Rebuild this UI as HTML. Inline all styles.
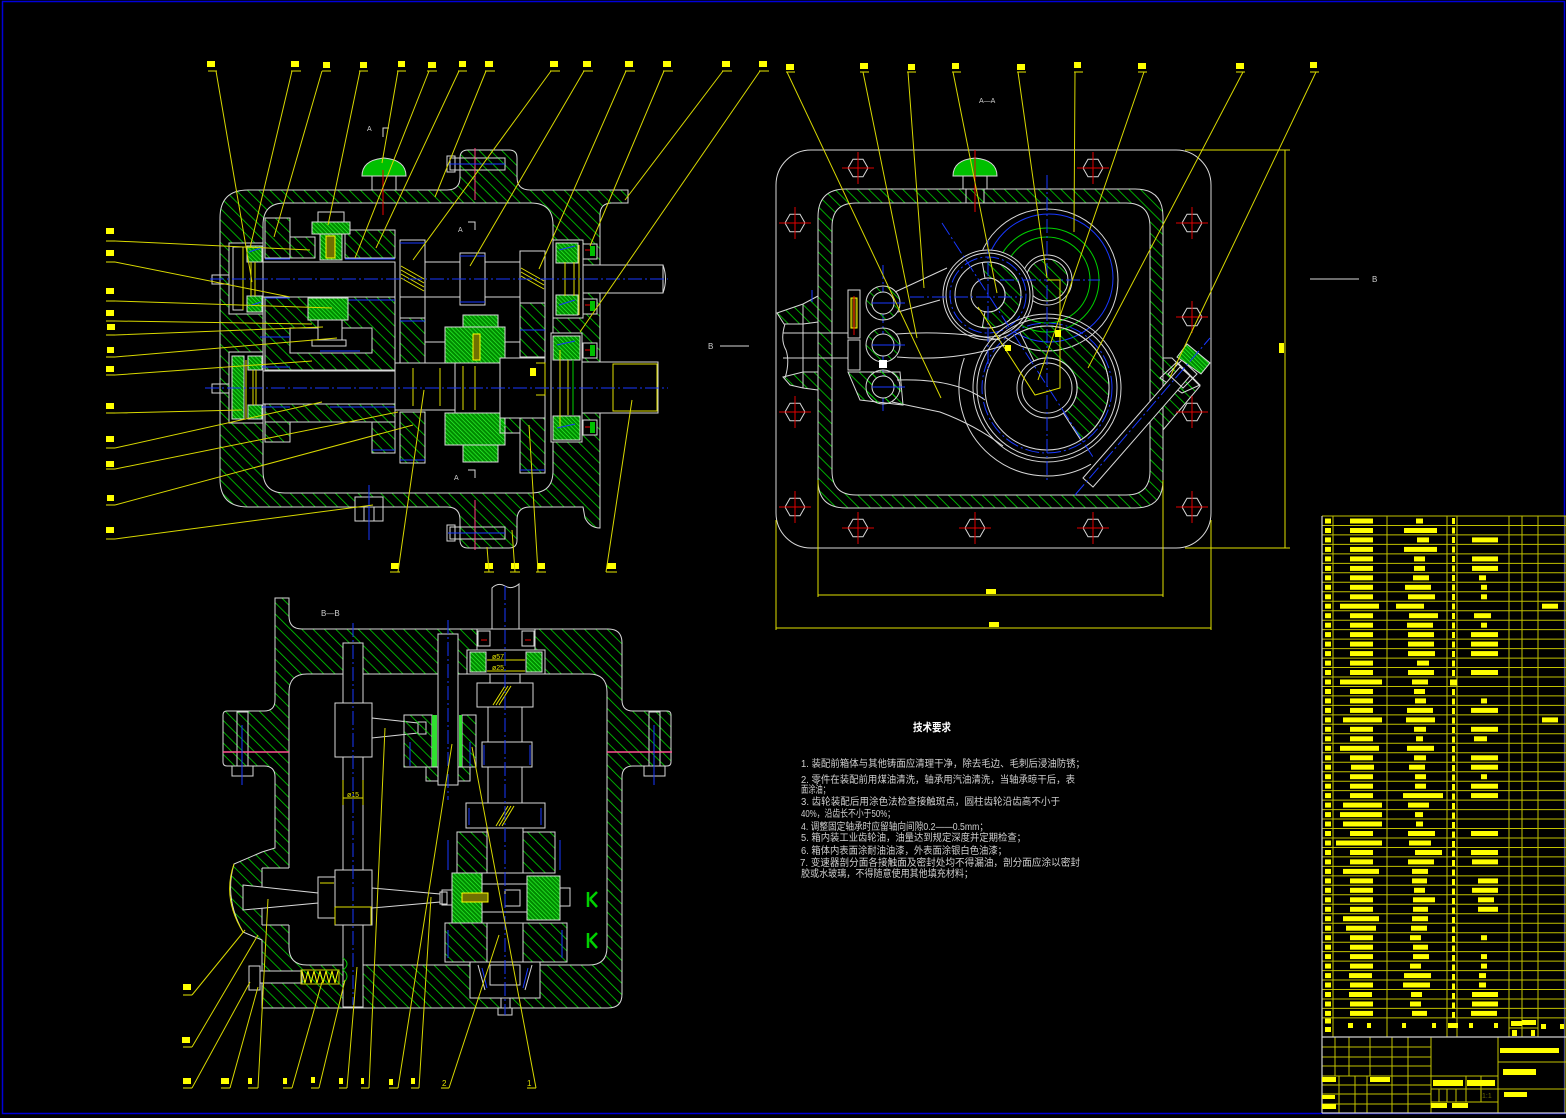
<!DOCTYPE html>
<html><head><meta charset="utf-8">
<style>
html,body{margin:0;padding:0;background:#000}
svg{display:block}
.w{stroke:#d8d8d8;stroke-width:1;fill:none}
.wb{stroke:#d8d8d8;stroke-width:1;fill:#000}
.hh{stroke:#d8d8d8;stroke-width:1;fill:url(#h)}
.dd{stroke:#d8d8d8;stroke-width:1;fill:url(#d)}
.y{stroke:#e0e000;stroke-width:1;fill:none}
.ld{stroke:#d8d800;stroke-width:1;fill:none}
.ul{stroke:#9a9a00;stroke-width:1.5;fill:none}
.bl{stroke:#1838ff;stroke-width:1;fill:none;stroke-dasharray:14 3 2 3}
.blu{stroke:#1838ff;stroke-width:1;fill:none}
.gr{stroke:#00d000;stroke-width:1;fill:none}
.t{fill:#cfcfcf;font-family:"Liberation Sans","Noto Sans CJK SC",sans-serif}
</style></head>
<body>
<svg width="1566" height="1118" viewBox="0 0 1566 1118" xmlns="http://www.w3.org/2000/svg">
<defs>
<pattern id="h" width="8" height="8" patternUnits="userSpaceOnUse" patternTransform="rotate(-45)"><line x1="0" y1="0" x2="0" y2="8" stroke="#00d400" stroke-width="1.6"/></pattern>
<pattern id="d" width="3" height="3" patternUnits="userSpaceOnUse" patternTransform="rotate(-45)"><rect width="3" height="3" fill="#008a00"/><line x1="0" y1="0" x2="0" y2="3" stroke="#30ff30" stroke-width="1.3"/></pattern>
<g id="bolt"><path d="M10,0 L5,8.7 L-5,8.7 L-10,0 L-5,-8.7 L5,-8.7 Z" fill="none" stroke="#d8d8d8"/><path d="M-16,0H16M0,-16V16" stroke="#e00000"/></g>
</defs>
<rect width="1566" height="1118" fill="#000"/>
<rect x="2.5" y="1.5" width="1562" height="1112" fill="none" stroke="#0000d8" stroke-width="1.5"/>

<!-- ================= VIEW 1 ================= -->
<g>
<path class="hh" fill-rule="evenodd" d="M248,190 L447,190 Q460,190 460,177 L460,158 Q460,150 468,150 L509,150 Q517,150 517,158 L517,177 Q517,190 530,190 L628,190 L628,203 L612,203 Q600,203 600,215 L600,528 Q590,528 585,518 L583,507 L530,507 Q517,507 517,520 L517,540 Q517,548 509,548 L468,548 Q460,548 460,540 L460,520 Q460,507 447,507 L248,507 Q220,507 220,479 L220,218 Q220,190 248,190 Z M285,203 Q263,203 263,225 L263,471 Q263,493 285,493 L531,493 Q553,493 553,471 L553,225 Q553,203 531,203 Z"/>
<!-- left covers -->
<rect class="wb" x="229" y="243" width="34" height="71"/>
<rect class="w" x="233" y="247" width="10" height="63"/>
<rect class="dd" x="247" y="246" width="15" height="16"/>
<rect class="dd" x="247" y="296" width="15" height="16"/>
<path class="y" d="M243,248V310M255,262V296M251,262V296"/>
<path class="blu" d="M249,252L261,248M249,306L261,302"/>
<rect class="w" x="212" y="275" width="17" height="9"/>
<rect class="wb" x="229" y="352" width="34" height="71"/>
<rect class="dd" x="232" y="356" width="12" height="63"/>
<rect class="dd" x="248" y="356" width="14" height="14"/>
<rect class="dd" x="248" y="405" width="14" height="14"/>
<path class="y" d="M246,360V418M256,370V405M253,370V405"/>
<rect class="w" x="212" y="384" width="17" height="9"/>
<!-- right bearings -->
<rect class="wb" x="553" y="240" width="30" height="78"/>
<rect class="dd" x="556" y="243" width="22" height="20"/>
<rect class="dd" x="556" y="295" width="22" height="20"/>
<path class="y" d="M565,262V296M574,262V296M579,245V315"/>
<path class="blu" d="M559,250L575,246M559,305L575,300"/>
<rect class="wb" x="583" y="265" width="80" height="28"/>
<path class="w" d="M663,265 Q668,279 663,293"/>
<rect class="wb" x="583" y="244" width="14" height="15"/>
<rect class="wb" x="583" y="299" width="14" height="15"/>
<path stroke="#e00" d="M585,250H590M585,305H590"/>
<rect x="590" y="246" width="5" height="10" fill="#00c000"/>
<rect x="590" y="301" width="5" height="10" fill="#00c000"/>
<rect class="wb" x="551" y="333" width="31" height="109"/>
<rect class="dd" x="553" y="336" width="27" height="24"/>
<rect class="dd" x="553" y="416" width="27" height="24"/>
<path class="y" d="M560,350V428M568,360V415"/>
<path class="gr" d="M573,360V415"/>
<path class="blu" d="M557,345L575,341M557,428L575,424"/>
<rect class="wb" x="582" y="362" width="76" height="51"/>
<rect class="y" x="613" y="364" width="44" height="47"/>
<rect class="wb" x="583" y="343" width="14" height="15"/>
<rect class="wb" x="583" y="420" width="14" height="15"/>
<rect x="590" y="345" width="5" height="11" fill="#00c000"/>
<rect x="590" y="422" width="5" height="11" fill="#00c000"/>
<path stroke="#e00" d="M585,350H590M585,427H590"/>
<!-- upper shaft group -->
<rect class="hh" x="265" y="218" width="25" height="40"/>
<rect class="hh" x="290" y="237" width="25" height="21"/>
<rect class="hh" x="345" y="230" width="50" height="28"/>
<rect class="hh" x="265" y="297" width="130" height="73"/>
<rect class="wb" x="290" y="328" width="82" height="25"/>
<rect class="wb" x="263" y="262" width="132" height="35"/>
<path class="blu" d="M265,259H290M345,259H395M265,298H290M345,300H395M260,337H290M320,351H360"/>
<rect class="wb" x="318" y="212" width="26" height="10"/>
<rect class="dd" x="312" y="222" width="38" height="12"/>
<rect class="dd" x="320" y="234" width="22" height="26"/>
<rect x="326" y="236" width="9" height="22" fill="#707000" stroke="#ff0"/>
<rect class="dd" x="308" y="298" width="40" height="22"/>
<rect class="wb" x="318" y="320" width="24" height="20"/>
<rect class="wb" x="312" y="340" width="34" height="6"/>
<rect class="wb" x="263" y="371" width="132" height="33"/>
<rect class="hh" x="265" y="404" width="130" height="18"/>
<rect class="hh" x="265" y="422" width="25" height="20"/>
<rect class="hh" x="372" y="422" width="23" height="31"/>
<path class="blu" d="M262,407H290M330,407H395M372,450H395M262,367H290"/>
<!-- middle column -->
<rect class="wb" x="400" y="240" width="25" height="57"/>
<path class="y" d="M401,266L424,279M401,270L424,283M401,274L424,287M401,278L424,291"/>
<rect class="wb" x="400" y="297" width="25" height="21"/>
<rect class="hh" x="400" y="318" width="25" height="47"/>
<rect class="wb" x="395" y="363" width="60" height="47"/>
<rect class="hh" x="400" y="412" width="25" height="51"/>
<path class="y" d="M413,368V406M440,368V406"/>
<rect class="wb" x="425" y="262" width="35" height="35"/>
<rect class="wb" x="425" y="297" width="95" height="45"/>
<rect class="wb" x="460" y="253" width="25" height="52"/>
<path class="blu" d="M460,256H485M460,302H485M400,243H425M400,460H425M400,321H425"/>
<rect class="wb" x="485" y="262" width="35" height="35"/>
<rect class="wb" x="520" y="251" width="25" height="52"/>
<path class="y" d="M521,268L544,281M521,272L544,285M521,276L544,289"/>
<rect class="hh" x="520" y="303" width="25" height="54"/>
<rect class="dd" x="463" y="315" width="35" height="12"/>
<rect class="dd" x="445" y="327" width="60" height="36"/>
<rect x="473" y="334" width="7" height="26" fill="#707000" stroke="#ff0"/>
<rect class="wb" x="455" y="363" width="45" height="50"/>
<path class="y" d="M463,366V410M475,366V410"/>
<rect class="dd" x="445" y="413" width="60" height="32"/>
<rect class="dd" x="463" y="445" width="35" height="17"/>
<rect class="wb" x="500" y="358" width="45" height="60"/>
<rect fill="#ff0" x="530" y="368" width="6" height="8"/>
<path class="y" d="M536,363H545V395H536"/>
<rect class="hh" x="500" y="418" width="20" height="15"/>
<rect class="hh" x="520" y="418" width="25" height="55"/>
<path class="blu" d="M520,470H545M520,330H545"/>
<!-- bosses bolts -->
<rect class="w" x="450" y="158" width="55" height="12"/>
<rect class="w" x="447" y="156" width="8" height="16"/>
<rect class="w" x="450" y="527" width="55" height="12"/>
<rect class="w" x="447" y="525" width="8" height="16"/>
<path stroke="#ff4080" d="M475,148V200M475,500V550"/>
<path class="blu" d="M448,164H505M448,533H505"/>
<!-- breather -->
<path d="M362,176 Q362,160 384,158 Q406,160 406,176 Z" fill="#00c000" stroke="#d8d8d8"/>
<rect class="w" x="372" y="176" width="24" height="14"/>
<path stroke="#e00" d="M383,170V215"/>
<!-- bottom hex bolt -->
<rect class="wb" x="355" y="497" width="28" height="10"/>
<rect class="wb" x="355" y="507" width="28" height="14"/>
<path class="w" d="M364,507V521M374,507V521"/>
<path class="blu" d="M369,485V540"/>
<!-- centerlines -->
<path class="bl" d="M210,279H668M205,388H668"/>
<!-- section marks -->
<text class="t" x="367" y="131" font-size="7">A</text>
<path class="w" d="M383,137V128H389"/>
<text class="t" x="458" y="232" font-size="7">A</text>
<path class="w" d="M468,222H475V230"/>
<text class="t" x="454" y="480" font-size="7">A</text>
<path class="w" d="M468,470H475V478"/>
</g>

<!-- view1 labels top -->
<g fill="#ff0">
<rect x="207" y="61" width="8" height="6"/><rect x="291" y="61" width="8" height="6"/><rect x="323" y="62" width="7" height="6"/><rect x="360" y="62" width="7" height="6"/><rect x="398" y="61" width="7" height="6"/><rect x="428" y="62" width="8" height="6"/><rect x="459" y="61" width="7" height="6"/><rect x="485" y="61" width="8" height="6"/><rect x="550" y="61" width="8" height="6"/><rect x="583" y="61" width="8" height="6"/><rect x="625" y="61" width="8" height="6"/><rect x="663" y="61" width="8" height="6"/><rect x="722" y="61" width="8" height="6"/><rect x="759" y="61" width="8" height="6"/>
</g>
<path class="ul" d="M208,71H217M291,71H301M322,71H331M359,71H368M397,71H406M427,71H437M458,71H467M485,71H495M550,71H560M583,71H593M625,71H635M663,71H673M722,71H732M759,71H769"/>
<path class="ld" d="M216,71L252,282M292,71L250,248M322,71L274,237M360,71L328,225M398,71L382,163M429,71L355,258M459,71L376,248M486,71L435,197M551,71L413,260M584,71L470,266M626,71L539,269M664,71L590,246M723,71L625,200M760,71L580,332"/>
<!-- view1 labels left -->
<g fill="#ff0">
<rect x="106" y="228" width="8" height="6"/><rect x="106" y="250" width="8" height="6"/><rect x="106" y="288" width="8" height="6"/><rect x="106" y="310" width="8" height="6"/><rect x="107" y="324" width="8" height="6"/><rect x="107" y="347" width="7" height="6"/><rect x="106" y="366" width="8" height="6"/><rect x="106" y="403" width="8" height="6"/><rect x="106" y="436" width="8" height="6"/><rect x="106" y="461" width="8" height="6"/><rect x="107" y="495" width="7" height="6"/><rect x="106" y="527" width="8" height="6"/>
</g>
<path class="ul" d="M106,241H115M106,262H115M106,301H115M106,321H115M106,335H115M106,357H115M106,375H115M106,413H115M106,448H115M106,469H115M106,505H115M106,539H115"/>
<path class="ld" d="M115,241L310,250M115,262L290,297M115,301L332,308M115,321L312,324M115,335L323,327M115,357L337,338M115,375L312,361M115,413L242,410M115,448L322,402M115,469L398,412M115,505L413,425M115,539L373,505"/>
<!-- view1 labels bottom -->
<g fill="#ff0">
<rect x="391" y="563" width="8" height="6"/><rect x="485" y="563" width="8" height="6"/><rect x="511" y="563" width="8" height="6"/><rect x="537" y="563" width="8" height="6"/><rect x="607" y="563" width="9" height="6"/>
</g>
<path class="ul" d="M390,572H400M484,572H494M510,572H520M536,572H546M606,572H617"/>
<path class="ld" d="M398,572L424,390M489,572L487,547M515,572L512,530M538,572L529,425M606,572L632,400"/>

<!-- ================= VIEW 2 ================= -->
<g>
<rect class="w" x="776" y="150" width="435" height="398" rx="35"/>
<path class="hh" fill-rule="evenodd" d="M846,189 L1135,189 Q1163,189 1163,217 L1163,480 Q1163,508 1135,508 L846,508 Q818,508 818,480 L818,217 Q818,189 846,189 Z M856,203 Q832,203 832,227 L832,471 Q832,495 856,495 L1126,495 Q1150,495 1150,471 L1150,227 Q1150,203 1126,203 Z"/>
<path class="hh" d="M777,313 L803,304 L818,296 L818,322 L803,324 L784,324 Z"/>
<path class="hh" d="M783,377 L803,372 L818,372 L818,390 L803,388 L790,385 Z"/>
<path class="hh" d="M1163,358 L1172,358 L1200,386 L1163,430 Z"/>
<path class="w" d="M785,324 Q780,340 786,350 Q790,362 785,378M803,304V388M783,333H848M783,358H848"/>
<use href="#bolt" x="858" y="168"/><use href="#bolt" x="1093" y="168"/>
<use href="#bolt" x="795" y="223"/><use href="#bolt" x="1192" y="223"/>
<use href="#bolt" x="1192" y="317"/>
<use href="#bolt" x="795" y="412"/><use href="#bolt" x="1192" y="412"/>
<use href="#bolt" x="795" y="507"/><use href="#bolt" x="1192" y="507"/>
<use href="#bolt" x="858" y="528"/><use href="#bolt" x="975" y="528"/><use href="#bolt" x="1093" y="528"/>
<!-- breather -->
<path d="M953,176 Q953,160 975,158 Q997,160 997,176 Z" fill="#00c000" stroke="#d8d8d8"/>
<rect class="w" x="963" y="176" width="24" height="13"/>
<path class="w" d="M966,189V203M984,189V203"/>
<path stroke="#e00" d="M975,150V212"/>
<!-- upper gear -->
<circle class="w" cx="1047" cy="280" r="71"/>
<circle class="blu" cx="1049" cy="278" r="64"/>
<circle class="gr" cx="1047" cy="280" r="52"/>
<circle class="gr" cx="1047" cy="280" r="43"/>
<circle cx="1047" cy="280" r="25" fill="#000" stroke="#d8d8d8"/>
<circle cx="1047" cy="280" r="21" fill="url(#h)" stroke="#d8d8d8"/>
<!-- middle gear -->
<circle class="wb" cx="988" cy="295" r="45"/>
<circle class="w" cx="988" cy="295" r="42"/>
<circle class="bl" cx="988" cy="295" r="38"/>
<circle class="w" cx="988" cy="295" r="33"/>
<path class="hh" d="M982.3,262.5 A33,33 0 1 1 982.3,327.5 L985,311.7 A17,17 0 1 0 985,278.3 Z"/>
<circle class="w" cx="988" cy="295" r="17"/>
<!-- big gear -->
<path class="w" d="M1091,464.2 A88,88 0 0 1 964.3,357.9"/>
<circle class="w" cx="1047" cy="388" r="74"/>
<circle class="w" cx="1047" cy="388" r="70"/>
<circle class="bl" cx="1047" cy="388" r="65"/>
<circle class="w" cx="1047" cy="388" r="62"/>
<path class="hh" d="M1019.8,332.3 A62,62 0 0 1 1080.8,440 L1063.3,413.2 A30,30 0 0 0 1033.9,361 Z"/>
<circle class="w" cx="1047" cy="388" r="30"/>
<circle class="w" cx="1047" cy="388" r="25"/>
<!-- centerlines -->
<path class="bl" d="M1047,175V480M1000,280H1100M942,223L1093,457M910,297H1023M988,240V370M883,265V413M812,290V302"/>
<!-- yellow bits -->
<path class="y" d="M978,307L1035,395L1060,388L1060,280L1047,280"/>
<rect x="1055" y="330" width="6" height="7" fill="#ff0"/>
<rect x="1005" y="345" width="6" height="6" fill="#ff0"/>
<!-- shift forks -->
<path class="w" d="M895,292 L947,268 M898,312 L940,300"/>
<path class="w" d="M896,334 Q950,330 1000,340 M897,357 Q955,362 1005,345"/>
<path class="w" d="M897,380 Q955,378 985,400 M892,402 L940,412 Q975,425 1003,446"/>
<path class="hh" d="M848,372 L900,372 L903,405 L860,400 Z"/>
<circle class="hh" cx="883" cy="303" r="17"/>
<circle class="hh" cx="883" cy="345" r="17"/>
<circle class="hh" cx="883" cy="387" r="17"/>
<circle class="wb" cx="883" cy="303" r="11"/>
<circle class="wb" cx="883" cy="345" r="11"/>
<circle class="wb" cx="883" cy="387" r="11"/>
<path class="blu" d="M872,303H905M872,345H905M872,387H905"/>
<rect class="wb" x="848" y="290" width="12" height="48"/>
<rect x="851" y="298" width="6" height="30" fill="#505000" stroke="#ff0"/>
<path stroke="#e00" d="M854,296V335M854,340V368"/>
<rect class="wb" x="848" y="340" width="12" height="30"/>
<rect x="879" y="360" width="8" height="8" fill="#fff"/>
<!-- lever -->
<path class="hh" d="M1160,378 L1177,362 L1200,385 L1182,393 Z"/>
<path class="wb" d="M1083,478 L1093,487 L1190,376 L1180,367 Z"/>
<path class="w" d="M1168,374 L1182,360 L1197,374 L1183,388 Z"/>
<path d="M1177,357 L1187,344 L1210,363 L1201,374 Z" fill="url(#d)" stroke="#d8d8d8"/>
<path class="bl" d="M1075,495 L1210,338"/>
<!-- dims -->
<path class="y" d="M1185,150H1290M1185,548H1290M1285,150V548"/>
<rect x="1279" y="343" width="5" height="10" fill="#ff0"/>
<path class="y" d="M818,480V597M1163,480V597M818,595H1163M776,520V630M1211,520V630M776,628H1211"/>
<rect x="986" y="589" width="10" height="5" fill="#ff0"/>
<rect x="989" y="622" width="10" height="5" fill="#ff0"/>
<!-- section marks -->
<text class="t" x="979" y="103" font-size="7">A—A</text>
<path class="w" d="M720,346H749M1310,279H1359"/>
<text class="t" x="708" y="349" font-size="8">B</text>
<text class="t" x="1372" y="282" font-size="8">B</text>
</g>
<!-- view2 labels -->
<g fill="#ff0">
<rect x="786" y="64" width="8" height="6"/><rect x="860" y="63" width="8" height="6"/><rect x="908" y="64" width="7" height="6"/><rect x="952" y="63" width="7" height="6"/><rect x="1017" y="64" width="8" height="6"/><rect x="1074" y="62" width="7" height="6"/><rect x="1138" y="63" width="8" height="6"/><rect x="1236" y="63" width="8" height="6"/><rect x="1310" y="62" width="7" height="6"/>
</g>
<path class="ul" d="M786,72H795M860,72H869M907,72H916M952,72H961M1017,72H1026M1074,72H1083M1138,72H1147M1236,72H1245M1310,72H1319"/>
<path class="ld" d="M787,72L941,398M863,72L917,338M908,72L924,288M953,72L997,293M1018,72L1047,278M1075,72L1074,232M1144,72L1038,380M1243,72L1088,368M1316,72L1170,377"/>

<!-- ================= VIEW 3 ================= -->
<g>
<path class="hh" fill-rule="evenodd" d="M275,598 L289,598 L289,616 Q289,629 302,629 L608,629 Q622,629 622,643 L622,700 Q622,711 633,711 L667,711 Q671,711 671,715 L671,762 Q671,766 667,766 L633,766 Q622,766 622,777 L622,994 Q622,1008 608,1008 L262,1008 L262,940 L243,932 Q224,898 234,864 L262,852 L275,848 L275,777 Q275,766 264,766 L227,766 Q223,766 223,762 L223,715 Q223,711 227,711 L264,711 Q275,711 275,700 Z M307,674 Q289,674 289,692 L289,947 Q289,965 307,965 L589,965 Q607,965 607,947 L607,692 Q607,674 589,674 Z"/>
<rect x="262" y="868" width="28" height="57" fill="#000"/>
<path class="w" d="M262,868H289M262,925H289M262,868V925"/>
<path class="y" d="M234,864 Q222,898 243,932"/>
<text class="t" x="321" y="616" font-size="8">B—B</text>
<!-- flange bolts -->
<rect class="w" x="237" y="712" width="11" height="54"/>
<rect class="wb" x="232" y="766" width="21" height="10"/>
<rect class="w" x="649" y="712" width="11" height="54"/>
<rect class="wb" x="644" y="766" width="21" height="10"/>
<path stroke="#ff5090" stroke-width="1.5" d="M223,752H289M607,752H672"/>
<path class="blu" d="M242,725V785M654,725V785"/>
<!-- left rail -->
<rect class="wb" x="343" y="643" width="20" height="364"/>
<rect class="wb" x="335" y="703" width="37" height="54"/>
<path class="wb" d="M372,718 L418,723 L418,733 L372,738 Z"/>
<rect class="wb" x="418" y="722" width="8" height="12"/>
<rect class="wb" x="335" y="870" width="37" height="55"/>
<rect class="wb" x="318" y="877" width="17" height="41"/>
<path class="wb" d="M243,885 L318,893 L318,903 L243,910 Z"/>
<path class="wb" d="M372,888 L440,894 L440,902 L372,908 Z"/>
<rect class="wb" x="440" y="892" width="7" height="12"/>
<path class="y" d="M335,907H372M335,907V925M371,907V925M343,798H363M343,780V805M363,780V805M320,883H334"/>
<text x="347" y="797" fill="#e0e000" font-size="7" font-family="Liberation Sans,sans-serif">ø15</text>
<path class="bl" d="M353,623V1005"/>
<!-- middle shaft -->
<rect class="hh" x="404" y="715" width="28" height="52"/>
<rect class="hh" x="462" y="715" width="14" height="52"/>
<rect class="wb" x="438" y="634" width="20" height="151"/>
<rect x="432" y="715" width="5" height="52" fill="#30e030"/>
<rect x="459" y="715" width="3" height="52" fill="#30e030"/>
<rect class="hh" x="426" y="767" width="12" height="14"/>
<rect class="hh" x="458" y="767" width="12" height="14"/>
<path class="bl" d="M448,620V800"/>
<path class="blu" d="M410,742V766M470,742V766"/>
<!-- main shaft column -->
<path class="wb" d="M492,630 L492,588 Q498,582 505,586 Q512,590 519,584 L519,630 Z"/>
<rect class="wb" x="477" y="629" width="58" height="21"/>
<rect class="wb" x="478" y="631" width="12" height="15"/>
<rect class="wb" x="522" y="631" width="12" height="15"/>
<path stroke="#e00" d="M481,640H487M525,640H531"/>
<rect class="wb" x="467" y="650" width="78" height="24"/>
<rect class="dd" x="470" y="652" width="16" height="20"/>
<rect class="dd" x="526" y="652" width="16" height="20"/>
<path class="y" d="M487,660H525M487,671H525"/>
<text x="492" y="659" fill="#e0e000" font-size="7" font-family="Liberation Sans,sans-serif">ø57</text>
<text x="492" y="670" fill="#e0e000" font-size="7" font-family="Liberation Sans,sans-serif">ø25</text>
<rect class="wb" x="490" y="674" width="30" height="10"/>
<rect class="wb" x="477" y="683" width="56" height="24"/>
<path class="y" d="M493,705L505,686M496,705L508,686M499,705L511,686"/>
<rect class="wb" x="488" y="707" width="34" height="35"/>
<rect class="wb" x="482" y="742" width="50" height="25"/>
<rect class="wb" x="488" y="767" width="34" height="36"/>
<rect class="wb" x="466" y="803" width="79" height="25"/>
<path class="y" d="M496,826L508,806M499,826L511,806M502,826L514,806"/>
<rect class="hh" x="457" y="832" width="30" height="41"/>
<rect class="hh" x="523" y="832" width="32" height="41"/>
<rect class="wb" x="487" y="828" width="36" height="45"/>
<rect class="dd" x="452" y="873" width="30" height="50"/>
<rect class="dd" x="527" y="876" width="33" height="44"/>
<rect class="wb" x="482" y="884" width="45" height="28"/>
<rect x="462" y="893" width="26" height="9" fill="#707000" stroke="#ff0"/>
<rect class="w" x="442" y="890" width="10" height="15"/>
<rect class="w" x="560" y="888" width="10" height="18"/>
<rect class="wb" x="505" y="890" width="15" height="16"/>
<rect class="hh" x="445" y="923" width="42" height="39"/>
<rect class="hh" x="523" y="923" width="44" height="39"/>
<rect class="wb" x="487" y="923" width="36" height="42"/>
<path class="blu" d="M448,840V870M560,840V870M448,930V958M562,930V958M469,808V825M541,808V825M484,745V765M530,745V765"/>
<rect class="wb" x="470" y="962" width="70" height="36"/>
<rect class="w" x="490" y="965" width="30" height="20"/>
<path class="w" d="M478,965L485,990M532,965L525,990"/>
<path class="blu" d="M482,968L487,988M528,968L523,988"/>
<rect class="wb" x="501" y="998" width="9" height="12"/>
<rect class="wb" x="498" y="1008" width="14" height="7"/>
<path class="bl" d="M505,586V1015"/>
<!-- K marks -->
<path stroke="#00d000" stroke-width="2.5" fill="none" d="M588,892V907M590,899L597,892M590,899L597,907M588,933V948M590,940L597,933M590,940L597,948"/>
<!-- spring unit -->
<rect class="wb" x="249" y="966" width="11" height="24"/>
<rect class="wb" x="260" y="971" width="42" height="12"/>
<path stroke="#ff0" fill="none" d="M302,971L305,983L308,971L311,983L314,971L317,983L320,971L323,983L326,971L329,983L332,971L335,983L338,971"/>
<rect x="301" y="970" width="38" height="14" fill="none" stroke="#c8c800"/>
<path class="gr" d="M343,958 Q351,964 343,970 Q351,976 343,983"/>
</g>
<!-- view3 labels -->
<g fill="#ff0">
<rect x="183" y="984" width="8" height="6"/>
<rect x="182" y="1037" width="8" height="6"/>
<rect x="183" y="1078" width="8" height="6"/><rect x="221" y="1078" width="8" height="6"/><rect x="248" y="1078" width="4" height="6"/><rect x="283" y="1078" width="4" height="6"/><rect x="311" y="1077" width="4" height="6"/><rect x="339" y="1078" width="4" height="6"/><rect x="361" y="1078" width="3" height="6"/><rect x="389" y="1079" width="4" height="6"/><rect x="411" y="1078" width="4" height="6"/>
</g>
<text x="442" y="1086" fill="#e0e000" font-size="8" font-family="Liberation Sans,sans-serif">2</text>
<text x="527" y="1086" fill="#e0e000" font-size="8" font-family="Liberation Sans,sans-serif">1</text>
<path class="ul" d="M183,995H192M183,1047H192M183,1088H192M221,1088H230M248,1088H258M283,1088H292M311,1088H319M339,1088H347M361,1088H369M389,1088H398M411,1088H419M441,1088H449M527,1088H536"/>
<path class="ld" d="M192,995L245,930M192,1047L258,935M192,1088L250,982M230,1088L258,987M258,1088L268,899M292,1088L322,982M319,1088L345,980M347,1088L357,967M369,1088L385,728M398,1088L452,744M419,1088L431,897M449,1088L499,935M536,1088L472,747"/>

<!-- ================= TECH TEXT ================= -->
<g class="t" font-size="10">
<text x="913" y="731" font-size="11" font-weight="bold" textLength="38" lengthAdjust="spacingAndGlyphs" style="fill:#fff">技术要求</text>
<text x="801" y="767" textLength="284" lengthAdjust="spacingAndGlyphs">1. 装配前箱体与其他铸面应清理干净，除去毛边、毛刺后浸油防锈；</text>
<text x="801" y="783" textLength="274" lengthAdjust="spacingAndGlyphs">2. 零件在装配前用煤油清洗，轴承用汽油清洗，当轴承晾干后，表</text>
<text x="801" y="793" textLength="29" lengthAdjust="spacingAndGlyphs">面涂油；</text>
<text x="801" y="805" textLength="259" lengthAdjust="spacingAndGlyphs">3. 齿轮装配后用涂色法检查接触斑点，圆柱齿轮沿齿高不小于</text>
<text x="801" y="817" textLength="94" lengthAdjust="spacingAndGlyphs">40%，沿齿长不小于50%；</text>
<text x="801" y="830" textLength="187" lengthAdjust="spacingAndGlyphs">4. 调整固定轴承时应留轴向间隙0.2——0.5mm；</text>
<text x="801" y="841" textLength="225" lengthAdjust="spacingAndGlyphs">5. 箱内装工业齿轮油，油量达到规定深度并定期检查；</text>
<text x="801" y="854" textLength="206" lengthAdjust="spacingAndGlyphs">6. 箱体内表面涂耐油油漆，外表面涂银白色油漆；</text>
<text x="800" y="866" textLength="280" lengthAdjust="spacingAndGlyphs">7. 变速器剖分面各接触面及密封处均不得漏油，剖分面应涂以密封</text>
<text x="801" y="877" textLength="172" lengthAdjust="spacingAndGlyphs">胶或水玻璃，不得随意使用其他填充材料；</text>
</g>

<!-- ================= PARTS LIST ================= -->
<g stroke="#c0c000" stroke-width="1" fill="none">
<path d="M1322,516H1566M1322,525.5H1566M1322,534.9H1566M1322,544.4H1566M1322,553.9H1566M1322,563.4H1566M1322,572.8H1566M1322,582.3H1566M1322,591.8H1566M1322,601.2H1566M1322,610.7H1566M1322,620.2H1566M1322,629.6H1566M1322,639.1H1566M1322,648.6H1566M1322,658.1H1566M1322,667.5H1566M1322,677H1566M1322,686.5H1566M1322,695.9H1566M1322,705.4H1566M1322,714.9H1566M1322,724.3H1566M1322,733.8H1566M1322,743.3H1566M1322,752.8H1566M1322,762.2H1566M1322,771.7H1566M1322,781.2H1566M1322,790.6H1566M1322,800.1H1566M1322,809.6H1566M1322,819H1566M1322,828.5H1566M1322,838H1566M1322,847.5H1566M1322,856.9H1566M1322,866.4H1566M1322,875.9H1566M1322,885.3H1566M1322,894.8H1566M1322,904.3H1566M1322,913.7H1566M1322,923.2H1566M1322,932.7H1566M1322,942.2H1566M1322,951.6H1566M1322,961.1H1566M1322,970.6H1566M1322,980H1566M1322,989.5H1566M1322,999H1566M1322,1008.4H1566M1322,1017.9H1566"/>
<path d="M1333,516V1037M1387,516V1037M1447,516V1037M1457,516V1037M1509,516V1037M1522,516V1037M1538,516V1037M1565,516V1113M1509,1028H1538"/>
<!-- title block -->
<path d="M1322,1047H1431M1322,1057H1431M1322,1066H1431M1322,1076H1498M1322,1085H1431M1322,1094H1431M1322,1104H1431M1335,1037V1076M1349,1037V1076M1370,1037V1076M1392,1037V1113M1408,1037V1113M1431,1037V1113M1339,1076V1113M1355,1076V1113M1367,1076V1113M1431,1089H1498M1431,1102H1498M1466,1076V1102M1481,1076V1102M1439,1089V1102M1447,1089V1102M1456,1089V1102M1498,1037V1113M1498,1062H1566M1498,1089H1566"/>
</g>
<path stroke="#d0d0d0" stroke-width="1.2" fill="none" d="M1322,516V1113M1322,1037H1566M1322,1113H1566"/>
<g fill="#ff0">
<!-- col1 icons -->
<rect x="1325" y="518.5" width="6" height="5"/><rect x="1325" y="528" width="6" height="5"/><rect x="1325" y="537.4" width="6" height="5"/><rect x="1325" y="546.9" width="6" height="5"/><rect x="1325" y="556.4" width="6" height="5"/><rect x="1325" y="565.9" width="6" height="5"/><rect x="1325" y="575.3" width="6" height="5"/><rect x="1325" y="584.8" width="6" height="5"/><rect x="1325" y="594.3" width="6" height="5"/><rect x="1325" y="603.7" width="6" height="5"/><rect x="1325" y="613.2" width="6" height="5"/><rect x="1325" y="622.7" width="6" height="5"/><rect x="1325" y="632.1" width="6" height="5"/><rect x="1325" y="641.6" width="6" height="5"/><rect x="1325" y="651.1" width="6" height="5"/><rect x="1325" y="660.6" width="6" height="5"/><rect x="1325" y="670" width="6" height="5"/><rect x="1325" y="679.5" width="6" height="5"/><rect x="1325" y="689" width="6" height="5"/><rect x="1325" y="698.4" width="6" height="5"/><rect x="1325" y="707.9" width="6" height="5"/><rect x="1325" y="717.4" width="6" height="5"/><rect x="1325" y="726.8" width="6" height="5"/><rect x="1325" y="736.3" width="6" height="5"/><rect x="1325" y="745.8" width="6" height="5"/><rect x="1325" y="755.3" width="6" height="5"/><rect x="1325" y="764.7" width="6" height="5"/><rect x="1325" y="774.2" width="6" height="5"/><rect x="1325" y="783.7" width="6" height="5"/><rect x="1325" y="793.1" width="6" height="5"/><rect x="1325" y="802.6" width="6" height="5"/><rect x="1325" y="812.1" width="6" height="5"/><rect x="1325" y="821.5" width="6" height="5"/><rect x="1325" y="831" width="6" height="5"/><rect x="1325" y="840.5" width="6" height="5"/><rect x="1325" y="850" width="6" height="5"/><rect x="1325" y="859.4" width="6" height="5"/><rect x="1325" y="868.9" width="6" height="5"/><rect x="1325" y="878.4" width="6" height="5"/><rect x="1325" y="887.8" width="6" height="5"/><rect x="1325" y="897.3" width="6" height="5"/><rect x="1325" y="906.8" width="6" height="5"/><rect x="1325" y="916.2" width="6" height="5"/><rect x="1325" y="925.7" width="6" height="5"/><rect x="1325" y="935.2" width="6" height="5"/><rect x="1325" y="944.7" width="6" height="5"/><rect x="1325" y="954.1" width="6" height="5"/><rect x="1325" y="963.6" width="6" height="5"/><rect x="1325" y="973.1" width="6" height="5"/><rect x="1325" y="982.5" width="6" height="5"/><rect x="1325" y="992" width="6" height="5"/><rect x="1325" y="1001.5" width="6" height="5"/><rect x="1325" y="1010.9" width="6" height="5"/>
<!-- col2 -->
<rect x="1350" y="518.5" width="23" height="5"/><rect x="1350" y="528" width="23" height="5"/><rect x="1350" y="537.4" width="23" height="5"/><rect x="1350" y="546.9" width="23" height="5"/><rect x="1350" y="556.4" width="23" height="5"/><rect x="1350" y="565.9" width="23" height="5"/><rect x="1350" y="575.3" width="23" height="5"/><rect x="1350" y="584.8" width="23" height="5"/><rect x="1350" y="594.3" width="23" height="5"/><rect x="1340" y="603.7" width="39" height="5"/><rect x="1350" y="613.2" width="23" height="5"/><rect x="1350" y="622.7" width="23" height="5"/><rect x="1350" y="632.1" width="23" height="5"/><rect x="1350" y="641.6" width="23" height="5"/><rect x="1350" y="651.1" width="23" height="5"/><rect x="1350" y="660.6" width="23" height="5"/><rect x="1350" y="670" width="23" height="5"/><rect x="1340" y="679.5" width="42" height="5"/><rect x="1350" y="689" width="23" height="5"/><rect x="1350" y="698.4" width="23" height="5"/><rect x="1350" y="707.9" width="23" height="5"/><rect x="1343" y="717.4" width="39" height="5"/><rect x="1350" y="726.8" width="23" height="5"/><rect x="1350" y="736.3" width="23" height="5"/><rect x="1340" y="745.8" width="39" height="5"/><rect x="1350" y="755.3" width="23" height="5"/><rect x="1351" y="764.7" width="23" height="5"/><rect x="1350" y="774.2" width="23" height="5"/><rect x="1350" y="783.7" width="23" height="5"/><rect x="1350" y="793.1" width="23" height="5"/><rect x="1343" y="802.6" width="39" height="5"/><rect x="1340" y="812.1" width="42" height="5"/><rect x="1343" y="821.5" width="39" height="5"/><rect x="1350" y="831" width="23" height="5"/><rect x="1336" y="840.5" width="46" height="5"/><rect x="1350" y="850" width="23" height="5"/><rect x="1350" y="859.4" width="23" height="5"/><rect x="1343" y="868.9" width="36" height="5"/><rect x="1350" y="878.4" width="23" height="5"/><rect x="1350" y="887.8" width="23" height="5"/><rect x="1350" y="897.3" width="23" height="5"/><rect x="1350" y="906.8" width="23" height="5"/><rect x="1343" y="916.2" width="36" height="5"/><rect x="1346" y="925.7" width="30" height="5"/><rect x="1350" y="935.2" width="23" height="5"/><rect x="1350" y="944.7" width="23" height="5"/><rect x="1350" y="954.1" width="23" height="5"/><rect x="1350" y="963.6" width="23" height="5"/><rect x="1349" y="973.1" width="23" height="5"/><rect x="1350" y="982.5" width="23" height="5"/><rect x="1349" y="992" width="23" height="5"/><rect x="1350" y="1001.5" width="23" height="5"/><rect x="1350" y="1010.9" width="23" height="5"/>
<!-- col3 -->
<rect x="1416" y="518.5" width="7" height="5"/><rect x="1404" y="528" width="33" height="5"/><rect x="1417" y="537.4" width="12" height="5"/><rect x="1404" y="546.9" width="33" height="5"/><rect x="1414" y="556.4" width="11" height="5"/><rect x="1414" y="565.9" width="11" height="5"/><rect x="1413" y="575.3" width="16" height="5"/><rect x="1405" y="584.8" width="26" height="5"/><rect x="1408" y="594.3" width="27" height="5"/><rect x="1396" y="603.7" width="28" height="5"/><rect x="1409" y="613.2" width="29" height="5"/><rect x="1407" y="622.7" width="26" height="5"/><rect x="1408" y="632.1" width="26" height="5"/><rect x="1408" y="641.6" width="26" height="5"/><rect x="1408" y="651.1" width="27" height="5"/><rect x="1417" y="660.6" width="12" height="5"/><rect x="1408" y="670" width="26" height="5"/><rect x="1412" y="679.5" width="16" height="5"/><rect x="1414" y="689" width="11" height="5"/><rect x="1415" y="698.4" width="11" height="5"/><rect x="1407" y="707.9" width="26" height="5"/><rect x="1406" y="717.4" width="29" height="5"/><rect x="1414" y="726.8" width="12" height="5"/><rect x="1416" y="736.3" width="7" height="5"/><rect x="1407" y="745.8" width="27" height="5"/><rect x="1414" y="755.3" width="12" height="5"/><rect x="1409" y="764.7" width="16" height="5"/><rect x="1415" y="774.2" width="11" height="5"/><rect x="1415" y="783.7" width="11" height="5"/><rect x="1403" y="793.1" width="40" height="5"/><rect x="1408" y="802.6" width="21" height="5"/><rect x="1415" y="812.1" width="8" height="5"/><rect x="1416" y="821.5" width="7" height="5"/><rect x="1408" y="831" width="27" height="5"/><rect x="1409" y="840.5" width="22" height="5"/><rect x="1415" y="850" width="27" height="5"/><rect x="1408" y="859.4" width="26" height="5"/><rect x="1412" y="868.9" width="16" height="5"/><rect x="1412" y="878.4" width="15" height="5"/><rect x="1414" y="887.8" width="11" height="5"/><rect x="1413" y="897.3" width="22" height="5"/><rect x="1413" y="906.8" width="15" height="5"/><rect x="1412" y="916.2" width="16" height="5"/><rect x="1411" y="925.7" width="16" height="5"/><rect x="1410" y="935.2" width="11" height="5"/><rect x="1413" y="944.7" width="15" height="5"/><rect x="1413" y="954.1" width="16" height="5"/><rect x="1410" y="963.6" width="11" height="5"/><rect x="1404" y="973.1" width="27" height="5"/><rect x="1403" y="982.5" width="27" height="5"/><rect x="1411" y="992" width="11" height="5"/><rect x="1410" y="1001.5" width="11" height="5"/><rect x="1412" y="1010.9" width="15" height="5"/>
<!-- col4 -->
<rect x="1452" y="518" width="3" height="6"/><rect x="1452" y="527.5" width="3" height="6"/><rect x="1452" y="537" width="3" height="6"/><rect x="1452" y="546.5" width="3" height="6"/><rect x="1452" y="556" width="3" height="6"/><rect x="1452" y="565.5" width="3" height="6"/><rect x="1452" y="575" width="3" height="6"/><rect x="1452" y="584.5" width="3" height="6"/><rect x="1452" y="594" width="3" height="6"/><rect x="1452" y="603.5" width="3" height="6"/><rect x="1452" y="613" width="3" height="6"/><rect x="1452" y="622.5" width="3" height="6"/><rect x="1452" y="632" width="3" height="6"/><rect x="1452" y="641.5" width="3" height="6"/><rect x="1452" y="651" width="3" height="6"/><rect x="1452" y="660.5" width="3" height="6"/><rect x="1452" y="670" width="3" height="6"/><rect x="1450" y="679.5" width="7" height="6"/><rect x="1452" y="689" width="3" height="6"/><rect x="1452" y="698.5" width="3" height="6"/><rect x="1452" y="708" width="3" height="6"/><rect x="1452" y="717.5" width="3" height="6"/><rect x="1452" y="727" width="3" height="6"/><rect x="1452" y="736.5" width="3" height="6"/><rect x="1452" y="746" width="3" height="6"/><rect x="1452" y="755.5" width="3" height="6"/><rect x="1452" y="765" width="3" height="6"/><rect x="1452" y="774.5" width="3" height="6"/><rect x="1452" y="784" width="3" height="6"/><rect x="1452" y="793.5" width="3" height="6"/><rect x="1452" y="803" width="3" height="6"/><rect x="1452" y="812.5" width="3" height="6"/><rect x="1452" y="822" width="3" height="6"/><rect x="1452" y="831.5" width="3" height="6"/><rect x="1452" y="841" width="3" height="6"/><rect x="1452" y="850.5" width="3" height="6"/><rect x="1452" y="860" width="3" height="6"/><rect x="1452" y="869.5" width="3" height="6"/><rect x="1452" y="879" width="3" height="6"/><rect x="1452" y="888.5" width="3" height="6"/><rect x="1452" y="898" width="3" height="6"/><rect x="1452" y="907.5" width="3" height="6"/><rect x="1452" y="917" width="3" height="6"/><rect x="1452" y="926.5" width="3" height="6"/><rect x="1452" y="936" width="3" height="6"/><rect x="1452" y="945.5" width="3" height="6"/><rect x="1452" y="955" width="3" height="6"/><rect x="1452" y="964.5" width="3" height="6"/><rect x="1452" y="974" width="3" height="6"/><rect x="1452" y="983.5" width="3" height="6"/><rect x="1452" y="993" width="3" height="6"/><rect x="1452" y="1002.5" width="3" height="6"/><rect x="1452" y="1012" width="3" height="6"/>
<!-- col5 -->
<rect x="1472" y="537.4" width="26" height="5"/><rect x="1472" y="556.4" width="26" height="5"/><rect x="1472" y="565.9" width="26" height="5"/><rect x="1479" y="575.3" width="7" height="5"/><rect x="1481" y="584.8" width="6" height="5"/><rect x="1481" y="594.3" width="6" height="5"/><rect x="1474" y="613.2" width="17" height="5"/><rect x="1481" y="622.7" width="6" height="5"/><rect x="1471" y="632.1" width="27" height="5"/><rect x="1471" y="641.6" width="27" height="5"/><rect x="1471" y="651.1" width="27" height="5"/><rect x="1471" y="670" width="27" height="5"/><rect x="1481" y="698.4" width="6" height="5"/><rect x="1471" y="707.9" width="27" height="5"/><rect x="1471" y="726.8" width="27" height="5"/><rect x="1474" y="736.3" width="13" height="5"/><rect x="1471" y="755.3" width="27" height="5"/><rect x="1471" y="764.7" width="27" height="5"/><rect x="1481" y="774.2" width="6" height="5"/><rect x="1471" y="783.7" width="27" height="5"/><rect x="1471" y="793.1" width="27" height="5"/><rect x="1471" y="831" width="27" height="5"/><rect x="1471" y="850" width="27" height="5"/><rect x="1472" y="859.4" width="26" height="5"/><rect x="1478" y="878.4" width="20" height="5"/><rect x="1472" y="887.8" width="26" height="5"/><rect x="1478" y="897.3" width="16" height="5"/><rect x="1478" y="906.8" width="20" height="5"/><rect x="1481" y="935.2" width="6" height="5"/><rect x="1481" y="954.1" width="6" height="5"/><rect x="1481" y="963.6" width="6" height="5"/><rect x="1479" y="973.1" width="7" height="5"/><rect x="1479" y="982.5" width="7" height="5"/><rect x="1472" y="992" width="26" height="5"/><rect x="1472" y="1001.5" width="26" height="5"/><rect x="1471" y="1010.9" width="26" height="5"/>
<rect x="1542" y="603.7" width="16" height="5"/><rect x="1542" y="717.4" width="16" height="5"/>
<!-- number row -->
<rect x="1325" y="1018.5" width="6" height="5"/><rect x="1325" y="1027" width="6" height="5"/><rect x="1348" y="1023" width="5" height="5"/><rect x="1367" y="1023" width="4" height="5"/><rect x="1402" y="1023" width="4" height="5"/><rect x="1432" y="1023" width="4" height="5"/><rect x="1448" y="1023" width="10" height="5"/><rect x="1469" y="1023" width="4" height="5"/><rect x="1494" y="1023" width="4" height="5"/><rect x="1511" y="1021" width="11" height="5"/><rect x="1522" y="1020" width="14" height="5"/><rect x="1512" y="1030" width="5" height="6"/><rect x="1531" y="1030" width="4" height="6"/><rect x="1541" y="1024" width="5" height="5"/><rect x="1560" y="1024" width="4" height="5"/>
<!-- title block fills -->
<rect x="1500" y="1048" width="59" height="5"/><rect x="1503" y="1069" width="33" height="6"/><rect x="1504" y="1092" width="23" height="5"/>
<rect x="1433" y="1080" width="30" height="6"/><rect x="1467" y="1080" width="28" height="6"/><rect x="1431" y="1103" width="16" height="5"/><rect x="1452" y="1103" width="16" height="5"/>
<rect x="1322" y="1077" width="14" height="5"/><rect x="1370" y="1077" width="20" height="5"/><rect x="1322" y="1095" width="13" height="4"/><rect x="1322" y="1104" width="14" height="5"/>
</g>
<text x="1482" y="1098" fill="#6a6a00" font-size="7" font-family="Liberation Sans,sans-serif">1:1</text>
</svg>
</body></html>
